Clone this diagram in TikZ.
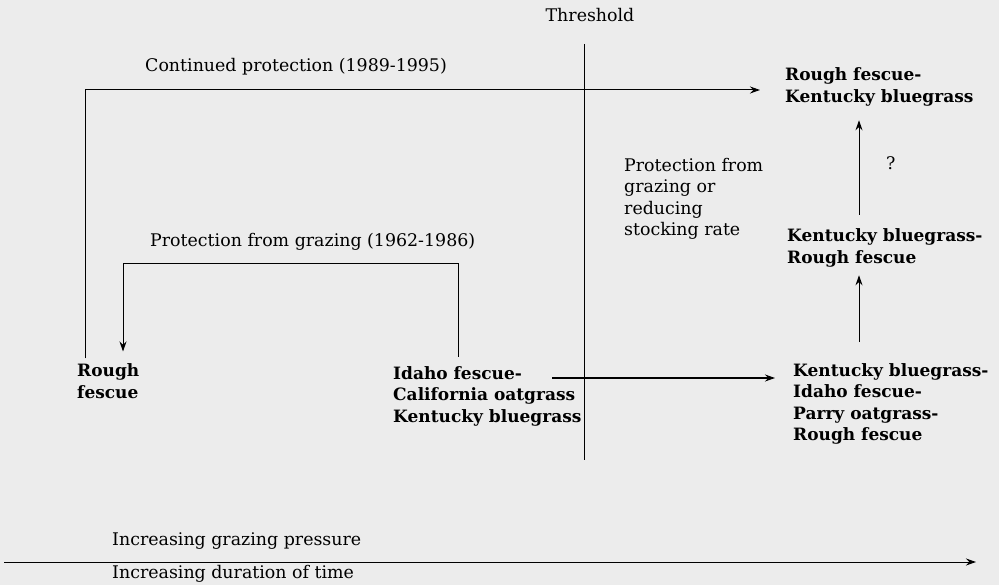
\documentclass[tikz,border=0pt]{standalone}
\usepackage{fontspec}
\setmainfont{DejaVu Serif}
\usetikzlibrary{arrows.meta}
\definecolor{paper}{RGB}{236,236,236}

\begin{document}
\begin{tikzpicture}[x=1pt,y=-1pt,
    lab/.style={inner sep=0pt,anchor=west,font=\fontsize{17.4}{21.5}\selectfont},
    grp/.style={inner sep=0pt,anchor=west,align=left,font=\fontsize{17}{21.5}\selectfont\bfseries},
    flow/.style={line width=1pt,-{Stealth[length=10pt,width=7pt]}}]
  \fill[paper] (0,0) rectangle (999,585);
  \useasboundingbox (0,0) rectangle (999,585);
  \node[lab,anchor=center] (thr) at (590,15) {Threshold};
  \node[lab] (cont) at (145,67) {Continued protection (1989-1995)};
  \node[lab] (pgraz) at (150,242) {Protection from grazing (1962-1986)};
  \node[lab,align=left] (stock) at (624,199) {Protection from\\grazing or\\reducing\\stocking rate};
  \node[lab] (q) at (886,163) {?};
  \node[grp] (rfkb) at (785,87) {Rough fescue-\\Kentucky bluegrass};
  \node[grp] (kbrf) at (787,248) {Kentucky bluegrass-\\Rough fescue};
  \node[grp] (kbif) at (793,404) {Kentucky bluegrass-\\Idaho fescue-\\Parry oatgrass-\\Rough fescue};
  \node[grp] (rough) at (77,381) {Rough\\fescue};
  \node[grp] (idaho) at (393,396) {Idaho fescue-\\California oatgrass\\Kentucky bluegrass};
  \node[lab] (press) at (112,541) {Increasing grazing pressure};
  \node[lab] (dur) at (112,574) {Increasing duration of time};
  \coordinate (thrEnd) at (584,460);
  \coordinate (cpEnd) at (760,90);
  \coordinate (outerX) at (85,0);
  \coordinate (innerR) at (458,0);
  \coordinate (innerL) at (123,264);
  \coordinate (shift) at (552,378);
  \coordinate (upX) at (859,0);
  \coordinate (axL) at (4,562);
  \coordinate (axR) at (976,562);
  \draw[line width=1pt] ([yshift=-22pt]thr.south -| thrEnd) -- (thrEnd);
  \draw[flow,shorten <=5pt] (rough.north -| outerX) |- (cpEnd);
  \draw[flow,shorten <=9pt,shorten >=12pt] (idaho.north -| innerR) |- (innerL) -- (rough.north -| innerL);
  \draw[flow,shorten >=18pt] (shift) -- (kbif.west |- shift);
  \draw[flow,shorten <=21pt,shorten >=8pt] (kbif.north -| upX) -- (kbrf.south -| upX);
  \draw[flow,shorten <=14pt,shorten >=14pt] (kbrf.north -| upX) -- (rfkb.south -| upX);
  \draw[flow] (axL) -- (axR);
\end{tikzpicture}
\end{document}
